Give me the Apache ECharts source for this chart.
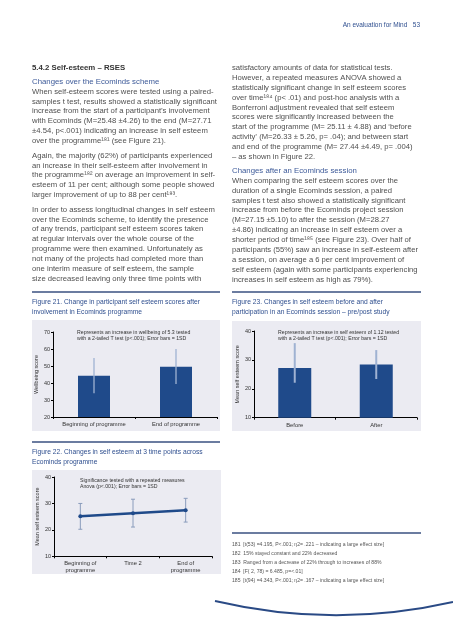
<!DOCTYPE html>
<html><head><meta charset="utf-8">
<script src="https://cdn.jsdelivr.net/npm/echarts@6/dist/echarts.min.js"></script>
<style>html,body{margin:0;padding:0;background:#fff;}#c{width:453px;height:640px;}</style>
</head><body><div id="c"></div>
<script>
// ---- data ----
const fig21Categories = ['Beginning of programme', 'End of programme'];
const fig21Means = [44.3, 49.6];
const fig21ErrLow = [33.9, 39.4];
const fig21ErrHigh = [54.7, 60.0];

const fig22Categories = ['Beginning of\nprogramme', 'Time 2', 'End of\nprogramme'];
const fig22Means = [25.11, 26.33, 27.44];
const fig22SD = [4.88, 5.26, 4.49];

const fig23Categories = ['Before', 'After'];
const fig23Means = [27.2, 28.4];
const fig23ErrLow = [22.1, 23.4];
const fig23ErrHigh = [35.8, 33.4];

const leftLines = [
 'When self-esteem scores were tested using a paired-',
 'samples t test, results showed a statistically significant',
 'increase from the start of a participant\u2019s involvement',
 'with Ecominds (M=25.48 \u00b14.26) to the end (M=27.71',
 '\u00b14.54, p<.001) indicating an increase in self esteem',
 'over the programme\u00b9\u2078\u00b9 (see Figure 21).'
];
const leftLines2 = [
 'Again, the majority (62%) of participants experienced',
 'an increase in their self-esteem after involvement in',
 'the programme\u00b9\u2078\u00b2 on average an improvement in self-',
 'esteem of 11 per cent; although some people showed',
 'larger improvement of up to 88 per cent\u00b9\u2078\u00b3.'
];
const leftLines3 = [
 'In order to assess longitudinal changes in self esteem',
 'over the Ecominds scheme, to identify the presence',
 'of any trends, participant self esteem scores taken',
 'at regular intervals over the whole course of the',
 'programme were then examined. Unfortunately as',
 'not many of the projects had completed more than',
 'one interim measure of self esteem, the sample',
 'size decreased leaving only three time points with'
];
const rightLines = [
 'satisfactory amounts of data for statistical tests.',
 'However, a repeated measures ANOVA showed a',
 'statistically significant change in self esteem scores',
 'over time\u00b9\u2078\u2074 (p< .01) and post-hoc analysis with a',
 'Bonferroni adjustment revealed that self esteem',
 'scores were significantly increased between the',
 'start of the programme (M= 25.11 \u00b1 4.88) and \u2018before',
 'activity\u2019 (M=26.33 \u00b1 5.26, p= .04); and between start',
 'and end of the programme (M= 27.44 \u00b14.49, p= .004)',
 '\u2013 as shown in Figure 22.'
];
const rightLines2 = [
 'When comparing the self esteem scores over the',
 'duration of a single Ecominds session, a paired',
 'samples t test also showed a statistically significant',
 'increase from before the Ecominds project session',
 '(M=27.15 \u00b15.10) to after the session (M=28.27',
 '\u00b14.86) indicating an increase in self esteem over a',
 'shorter period of time\u00b9\u2078\u2075 (see Figure 23). Over half of',
 'participants (55%) saw an increase in self-esteem after',
 'a session, on average a 6 per cent improvement of',
 'self esteem (again with some participants experiencing',
 'increases in self esteem as high as 79%).'
];
const footnotes = [
 '181  [t(53) =4.195, P<.001; \u03b72= .221 \u2013 indicating a large effect size]',
 '182  15% stayed constant and 22% decreased',
 '183  Ranged from a decrease of 22% through to increases of 88%',
 '184  [F( 2, 78) = 6.485, p=<.01]',
 '185  [t(94) =4.343, P<.001; \u03b72= .167 \u2013 indicating a large effect size]'
];

// ---- styles ----
const FONT = '"Liberation Sans", Arial, sans-serif';
const BODY = '#505050', BLUE = '#2f4f8f', NAVY = '#1f4a8a', PANEL = '#ebebf2';
const g = [];
function txt(x, y, s, size, color, opt) {
  opt = opt || {};
  g.push({type: 'text', z: 10, style: {x: x, y: y, text: s, fill: color,
    font: (opt.weight || 'normal') + ' ' + size + 'px ' + (opt.family || FONT),
    align: opt.align || 'left', verticalAlign: 'middle',
    textAlign: opt.align || 'left', textVerticalAlign: 'middle'}});
}
function lines(x, y0, arr, step, size, color) {
  arr.forEach((s, i) => txt(x, y0 + i * step, s, size, color));
}
function hline(x1, x2, y) {
  g.push({type: 'line', z: 10, shape: {x1: x1, y1: y, x2: x2, y2: y}, style: {stroke: '#3a5080', lineWidth: 1.5}});
}
function rect(x, y, w, h) {
  g.push({type: 'rect', z: -10, shape: {x: x, y: y, width: w, height: h}, style: {fill: PANEL}});
}

// header
txt(420, 25, 'An evaluation for Mind   53', 6.5, BLUE, {align: 'right'});
// left column
txt(32, 68, '5.4.2 Self-esteem \u2013 RSES', 7.8, '#333', {weight: 'bold'});
txt(32, 82, 'Changes over the Ecominds scheme', 7.8, '#3d5a99');
lines(32, 91.5, leftLines, 9.9, 7.7, BODY);
lines(32, 155.5, leftLines2, 9.9, 7.7, BODY);
lines(32, 209.5, leftLines3, 9.9, 7.7, BODY);
// right column
lines(232, 68, rightLines, 9.85, 7.65, BODY);
txt(232, 170.5, 'Changes after an Ecominds session', 7.8, '#3d5a99');
lines(232, 180.5, rightLines2, 9.95, 7.65, BODY);
// separators & captions
hline(32, 220, 292); hline(232, 421, 292); hline(32, 220, 442); hline(232, 421, 533);
txt(32, 302, 'Figure 21. Change in participant self esteem scores after', 6.7, BLUE);
txt(32, 312, 'involvement in Ecominds programme', 6.7, BLUE);
txt(232, 302, 'Figure 23. Changes in self esteem before and after', 6.7, BLUE);
txt(232, 312, 'participation in an Ecominds session \u2013 pre/post study', 6.7, BLUE);
txt(32, 452, 'Figure 22. Changes in self esteem at 3 time points across', 6.7, BLUE);
txt(32, 462, 'Ecominds programme', 6.7, BLUE);
// panels
rect(32, 320, 188, 111); rect(232, 321, 189, 110); rect(32, 470, 189, 104);
// annotations
txt(77, 333, 'Represents an increase in wellbeing of 5.3 tested', 5.2, '#333');
txt(77, 339, 'with a 2-tailed T test (p<.001); Error bars = 1SD', 5.2, '#333');
txt(278, 333, 'Represents an increase in self esteem of 1.12 tested', 5.2, '#333');
txt(278, 339, 'with a 2-tailed T test (p<.001); Error bars = 1SD', 5.2, '#333');
txt(80, 481, 'Significance tested with a repeated measures', 5.2, '#333');
txt(80, 486.5, 'Anova (p<.001); Error bars = 1SD', 5.2, '#333');
// footnotes
lines(232, 544.5, footnotes, 9, 5.1, '#555');
// bottom curve
g.push({type: 'bezierCurve', z: 10, shape: {x1: 215, y1: 601, x2: 453, y2: 602, cpx1: 334, cpy1: 629},
  style: {stroke: '#2a4a85', lineWidth: 1.8, fill: null}});

// ---- charts ----
function errRender(color, lw, cap) {
  return function (params, api) {
    const lo = api.coord([api.value(0), api.value(1)]);
    const hi = api.coord([api.value(0), api.value(2)]);
    const st = {stroke: color, lineWidth: lw};
    const ch = [{type: 'line', shape: {x1: lo[0], y1: lo[1], x2: hi[0], y2: hi[1]}, style: st}];
    if (cap > 0) {
      ch.push({type: 'line', shape: {x1: lo[0] - cap, y1: lo[1], x2: lo[0] + cap, y2: lo[1]}, style: st});
      ch.push({type: 'line', shape: {x1: hi[0] - cap, y1: hi[1], x2: hi[0] + cap, y2: hi[1]}, style: st});
    }
    return {type: 'group', children: ch};
  };
}
function yAx(gi, min, max, name, gap) {
  return {type: 'value', gridIndex: gi, min: min, max: max, interval: 10,
    axisLine: {show: true, lineStyle: {color: '#000', width: 1}},
    axisTick: {show: true, length: 2, lineStyle: {color: '#000'}},
    axisLabel: {fontSize: 5.5, color: '#333', margin: 3, fontFamily: FONT},
    splitLine: {show: false},
    name: name, nameLocation: 'middle', nameGap: gap, nameRotate: 90,
    nameTextStyle: {fontSize: 5.5, color: '#333', fontFamily: FONT}};
}
function xAx(gi, cats, margin) {
  return {type: 'category', gridIndex: gi, data: cats,
    axisLine: {lineStyle: {color: '#000', width: 1}},
    axisTick: {show: true, length: 2, lineStyle: {color: '#000'}},
    axisLabel: {interval: 0, hideOverlap: false, fontSize: 5.8, color: '#333', margin: margin, fontFamily: FONT, lineHeight: 7.5}};
}

const option = {
  animation: false,
  graphic: {elements: g},
  grid: [
    {left: 53, top: 332, width: 164, height: 85},
    {left: 254, top: 331, width: 163, height: 86.7},
    {left: 54, top: 477, width: 158, height: 79.3}
  ],
  xAxis: [xAx(0, fig21Categories, 4), xAx(1, fig23Categories, 4), xAx(2, fig22Categories, 3)],
  yAxis: [yAx(0, 20, 70, 'Wellbeing score', 13), yAx(1, 10, 40, 'Mean self esteem score', 12), yAx(2, 10, 40, 'Mean self esteem score', 11)],
  series: [
    {type: 'bar', xAxisIndex: 0, yAxisIndex: 0, data: fig21Means, barWidth: 32, itemStyle: {color: NAVY}},
    {type: 'custom', xAxisIndex: 0, yAxisIndex: 0, z: 5, renderItem: errRender('#9fb2d2', 1.3, 0),
      data: fig21Means.map((m, i) => [i, fig21ErrLow[i], fig21ErrHigh[i]])},
    {type: 'bar', xAxisIndex: 1, yAxisIndex: 1, data: fig23Means, barWidth: 33, itemStyle: {color: NAVY}},
    {type: 'custom', xAxisIndex: 1, yAxisIndex: 1, z: 5, renderItem: errRender('#9fb2d2', 2, 0),
      data: fig23Means.map((m, i) => [i, fig23ErrLow[i], fig23ErrHigh[i]])},
    {type: 'custom', xAxisIndex: 2, yAxisIndex: 2, z: 1, renderItem: errRender('#8a9cbc', 1, 2),
      data: fig22Means.map((m, i) => [i, m - fig22SD[i], m + fig22SD[i]])},
    {type: 'line', xAxisIndex: 2, yAxisIndex: 2, z: 3, data: fig22Means, symbol: 'circle', symbolSize: 4,
      lineStyle: {color: NAVY, width: 2.5}, itemStyle: {color: NAVY}}
  ]
};
echarts.init(document.getElementById('c')).setOption(option);
</script></body></html>
